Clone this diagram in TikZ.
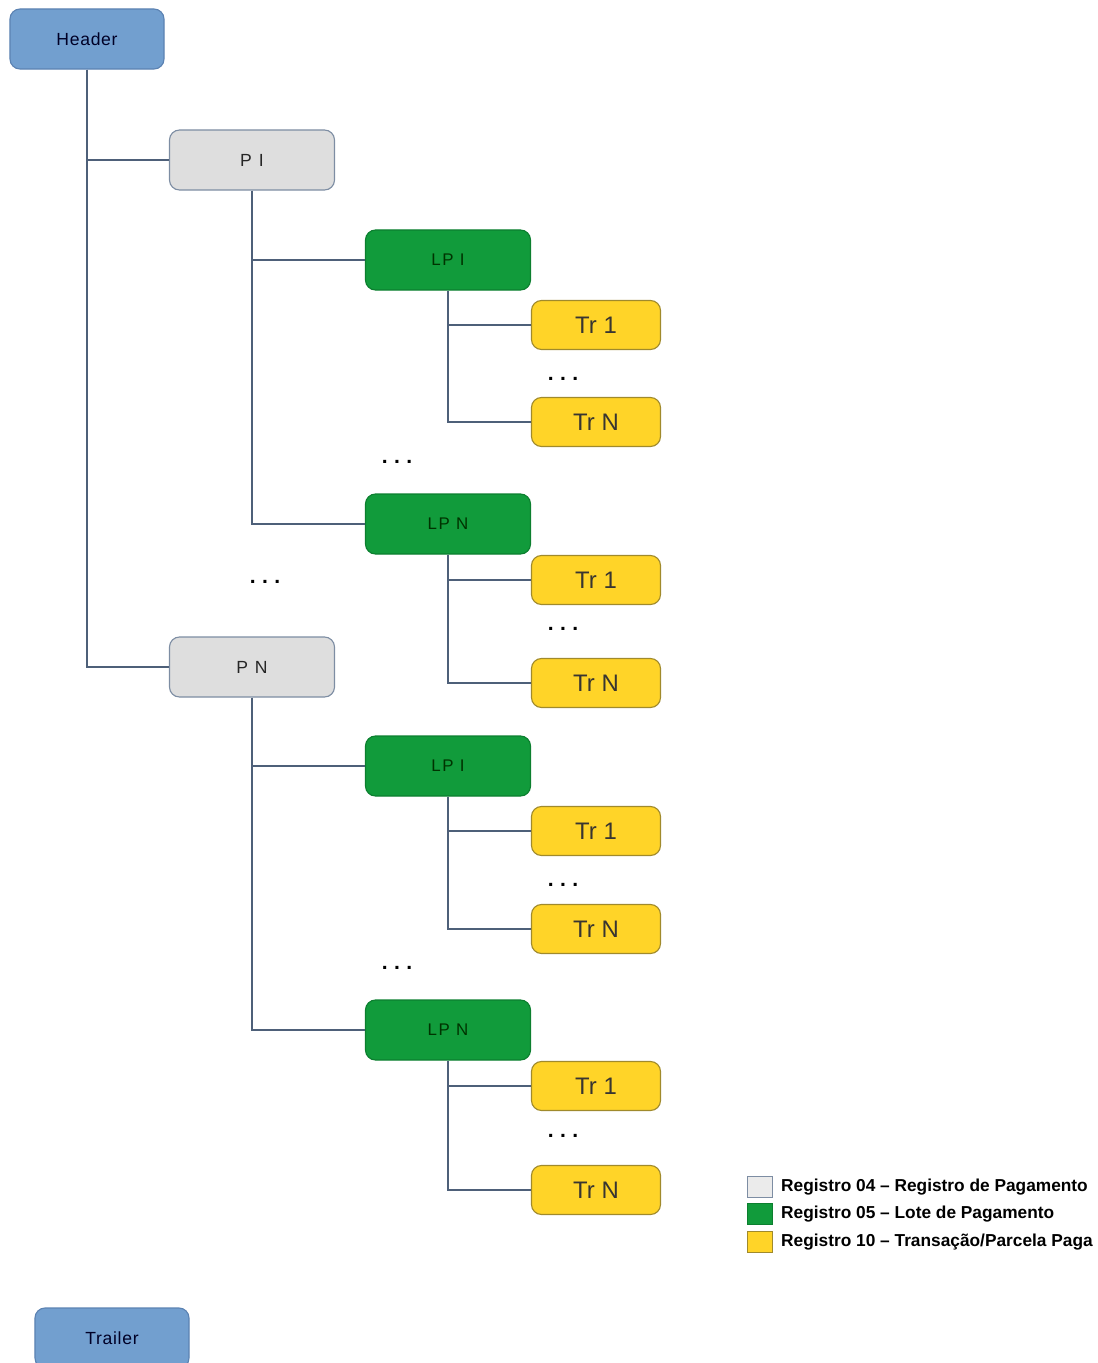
\documentclass[tikz,border=0pt]{standalone}
\usepackage{fontspec}
\setmainfont{Liberation Sans}
\usetikzlibrary{positioning}

\definecolor{hdrfill}{HTML}{729FCF}
\definecolor{hdrline}{HTML}{5B82B2}
\definecolor{pfill}{HTML}{DEDEDE}
\definecolor{pline}{HTML}{7D8DA3}
\definecolor{lpfill}{HTML}{119B3B}
\definecolor{lpline}{HTML}{0C7F2F}
\definecolor{trfill}{HTML}{FFD428}
\definecolor{trline}{HTML}{A08A2C}
\definecolor{linkcol}{HTML}{4E6079}

\newcommand{\ddd}{.\kern4.5pt.\kern4.5pt.}

\begin{document}
\begin{tikzpicture}[
    x=0.025cm, y=-0.025cm,
    box/.style     = {rounded corners=0.25cm, line width=0.8pt, inner sep=0pt, align=center},
    hdr/.style     = {box, fill=hdrfill, draw=hdrline, minimum width=3.85cm, minimum height=1.5cm,
                      font=\fontsize{12.5}{15}\selectfont\addfontfeatures{LetterSpace=4}, text=black!85!blue},
    pay/.style     = {box, fill=pfill, draw=pline, minimum width=4.125cm, minimum height=1.5cm,
                      font=\fontsize{12.5}{14}\selectfont\addfontfeatures{LetterSpace=12}, text=black!85},
    lot/.style     = {box, fill=lpfill, draw=lpline, minimum width=4.125cm, minimum height=1.5cm,
                      font=\fontsize{12}{14}\selectfont\addfontfeatures{LetterSpace=10}, text=black!80!green},
    trn/.style     = {box, fill=trfill, draw=trline, minimum width=3.225cm, minimum height=1.225cm,
                      font=\fontsize{17}{20}\selectfont, text=black!90!yellow},
    dots/.style    = {font=\fontsize{15}{16}\selectfont\bfseries, inner sep=0pt},
    link/.style    = {line width=1pt, linkcol},
    keybox/.style  = {draw=pline, line width=0.6pt, minimum width=0.625cm, minimum height=0.525cm, inner sep=0pt},
    keytext/.style = {font=\fontsize{12.3}{14}\selectfont\bfseries, inner sep=0pt, anchor=west}
  ]
  \useasboundingbox (0,0) rectangle (1098,1363);

  % --- header and trailer ---
  \node[hdr] (hdr) at (87,39)    {Header};
  \node[hdr] (trl) at (112,1338) {Trailer};

  % --- payments ---
  \node[pay] (p1) at (252,160) {P I};
  \node[pay] (pN) at (252,667) {P N};
  \node[dots] (dp) at (265,582) {\ddd};

  % --- batches of P I ---
  \node[lot] (lp11) at (448,260) {LP I};
  \node[trn] (t111) at (596,325) {Tr 1};
  \node[dots] (d11) at (563,379) {\ddd};
  \node[trn] (t11N) at (596,422) {Tr N};
  \node[dots] (dl1) at (397,462) {\ddd};
  \node[lot] (lp1N) at (448,524) {LP N};
  \node[trn] (t1N1) at (596,580) {Tr 1};
  \node[dots] (d1N) at (563,629) {\ddd};
  \node[trn] (t1NN) at (596,683) {Tr N};

  % --- batches of P N ---
  \node[lot] (lpN1) at (448,766) {LP I};
  \node[trn] (tN11) at (596,831) {Tr 1};
  \node[dots] (dN1) at (563,885) {\ddd};
  \node[trn] (tN1N) at (596,929) {Tr N};
  \node[dots] (dlN) at (397,968) {\ddd};
  \node[lot] (lpNN) at (448,1030) {LP N};
  \node[trn] (tNN1) at (596,1086) {Tr 1};
  \node[dots] (dNN) at (563,1136) {\ddd};
  \node[trn] (tNNN) at (596,1190) {Tr N};

  % --- links ---
  \draw[link] (hdr.south) |- (pN.west);
  \draw[link] (hdr.south) |- (p1.west);

  \draw[link] (p1.south) |- (lp1N.west);
  \draw[link] (p1.south) |- (lp11.west);
  \draw[link] (pN.south) |- (lpNN.west);
  \draw[link] (pN.south) |- (lpN1.west);

  \draw[link] (lp11.south) |- (t11N.west);
  \draw[link] (lp11.south) |- (t111.west);
  \draw[link] (lp1N.south) |- (t1NN.west);
  \draw[link] (lp1N.south) |- (t1N1.west);
  \draw[link] (lpN1.south) |- (tN1N.west);
  \draw[link] (lpN1.south) |- (tN11.west);
  \draw[link] (lpNN.south) |- (tNNN.west);
  \draw[link] (lpNN.south) |- (tNN1.west);

  % --- legend ---
  \node[keybox, fill=pfill!60!white] (k1) at (760,1187) {};
  \node[keybox, fill=lpfill, draw=lpline] (k2) at (760,1214) {};
  \node[keybox, fill=trfill, draw=trline] (k3) at (760,1242) {};
  \node[keytext, right=0.2cm of k1] (k1t) {Registro 04 -- Registro de Pagamento};
  \node[keytext, right=0.2cm of k2] (k2t) {Registro 05 -- Lote de Pagamento};
  \node[keytext, right=0.2cm of k3] (k3t) {Registro 10 -- Transação/Parcela Paga};

\end{tikzpicture}
\end{document}
